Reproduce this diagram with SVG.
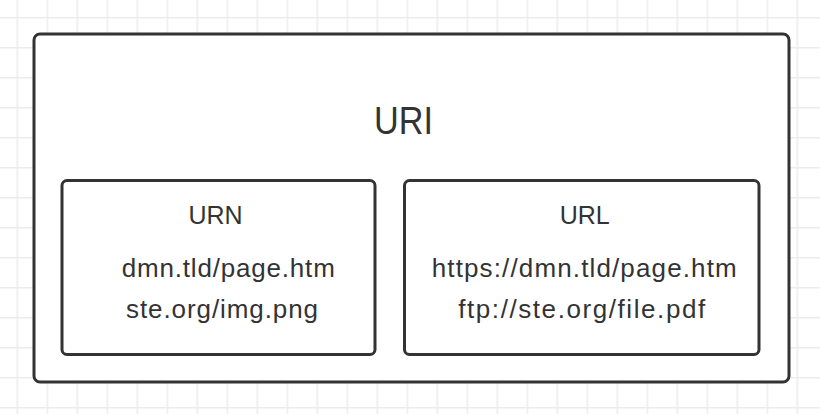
<svg xmlns="http://www.w3.org/2000/svg" width="820" height="414" viewBox="0 0 820 414">
  <defs>
    <pattern id="grid" x="16.5" y="17" width="30" height="30" patternUnits="userSpaceOnUse">
      <path d="M0.75 0 V30 M0 0.75 H30" fill="none" stroke="#ececec" stroke-width="1.5"/>
    </pattern>
  </defs>
  <style>
    .box { fill: #ffffff; stroke: #333333; stroke-width: 3; }
    .t { font-family: "Liberation Sans", Arial, Helvetica, sans-serif; fill: #333333; text-anchor: middle; }
    .title { font-size: 38px; }
    .label { font-size: 25px; }
    .item { font-size: 26px; }
  </style>
  <rect x="0" y="0" width="820" height="414" fill="#ffffff"/>
  <rect x="0" y="0" width="820" height="414" fill="url(#grid)"/>

  <g id="uri">
    <rect class="box" x="34" y="34" width="755" height="348" rx="6" ry="6"/>
    <text class="t title" x="403.5" y="133.5" textLength="59" lengthAdjust="spacingAndGlyphs">URI</text>
  </g>

  <g id="urn">
    <rect class="box" x="62" y="180.5" width="313" height="174" rx="5" ry="5"/>
    <text class="t label" x="215.5" y="223.5">URN</text>
    <text class="t item" x="228.3" y="276.5" textLength="213">dmn.tld/page.htm</text>
    <text class="t item" x="222" y="317.5" textLength="192">ste.org/img.png</text>
  </g>

  <g id="url">
    <rect class="box" x="404.5" y="180.5" width="354.5" height="174" rx="5" ry="5"/>
    <text class="t label" x="584.7" y="223.5">URL</text>
    <text class="t item" x="584.2" y="276.5" textLength="305">https://dmn.tld/page.htm</text>
    <text class="t item" x="581.7" y="318" textLength="247">ftp://ste.org/file.pdf</text>
  </g>

  <g id="connectors"/>
</svg>
